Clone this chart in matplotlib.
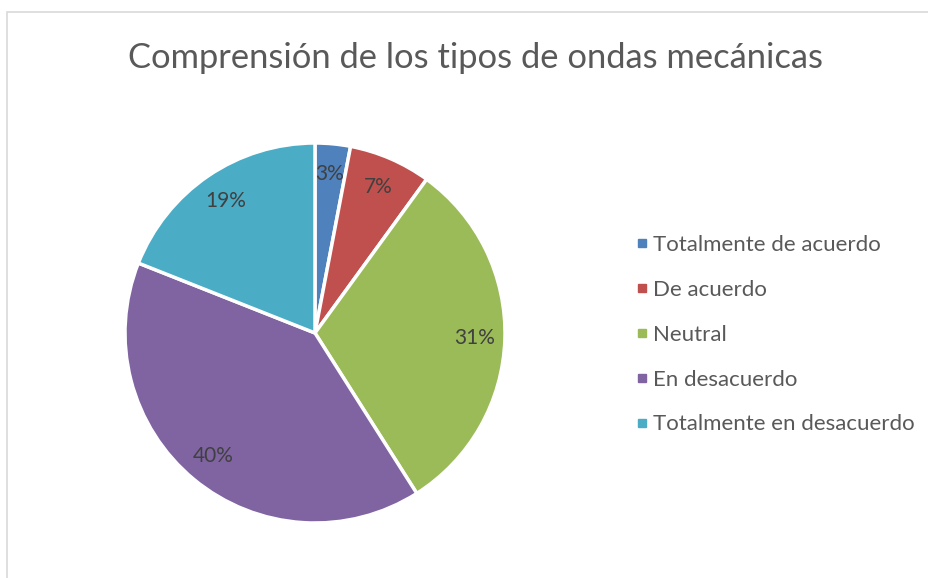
import matplotlib.pyplot as plt
from matplotlib.lines import Line2D
from matplotlib.patches import Rectangle

# Data
categories = ['Totalmente de acuerdo', 'De acuerdo', 'Neutral',
              'En desacuerdo', 'Totalmente en desacuerdo']
values = [3, 7, 31, 40, 19]
colors = ['#4F81BD', '#C0504D', '#9BBB59', '#8064A2', '#4BACC6']
title = 'Comprensión de los tipos de ondas mecánicas'

plt.rcParams['font.family'] = ['Lato', 'DejaVu Sans']
text_color = '#595959'

W, H = 929, 578
fig = plt.figure(figsize=(W / 100, H / 100), dpi=100)

# Chart frame (continues off the right/bottom edge)
frame = Rectangle((7.5 / W, -0.05), 1.1, (H - 11.5) / H + 0.05,
                  transform=fig.transFigure, fill=False,
                  edgecolor='#D9D9D9', linewidth=1.2)
fig.patches.append(frame)

# Pie axes placed in pixel terms: centre (315, 333), radius 190
cx, cy, r = 315, 333, 190
ax = fig.add_axes([(cx - r) / W, (H - cy - r) / H, 2 * r / W, 2 * r / H])
wedges, texts, autotexts = ax.pie(
    values, colors=colors, startangle=90, counterclock=False,
    autopct='%1.0f%%', pctdistance=0.84, radius=1,
    wedgeprops=dict(edgecolor='white', linewidth=2.5),
    textprops=dict(color='#404040', fontsize=15))
ax.set_xlim(-1, 1)
ax.set_ylim(-1, 1)
ax.set_aspect('equal')
ax.axis('off')

fig.text(476 / W, 1 - 58 / H, title, ha='center', va='center',
         fontsize=24.8, color=text_color)

handles = [Line2D([], [], marker='s', linestyle='none', markersize=6,
                  markerfacecolor=c, markeredgecolor=c) for c in colors]
leg = fig.legend(handles, categories, loc='upper left',
                 bbox_to_anchor=(626 / W, 1 - 226 / H), frameon=False,
                 fontsize=16, labelspacing=1.12, handlelength=0.6,
                 handletextpad=0.2, borderaxespad=0)
for t in leg.get_texts():
    t.set_color(text_color)

fig.savefig('out.png', dpi=100, facecolor='white')
